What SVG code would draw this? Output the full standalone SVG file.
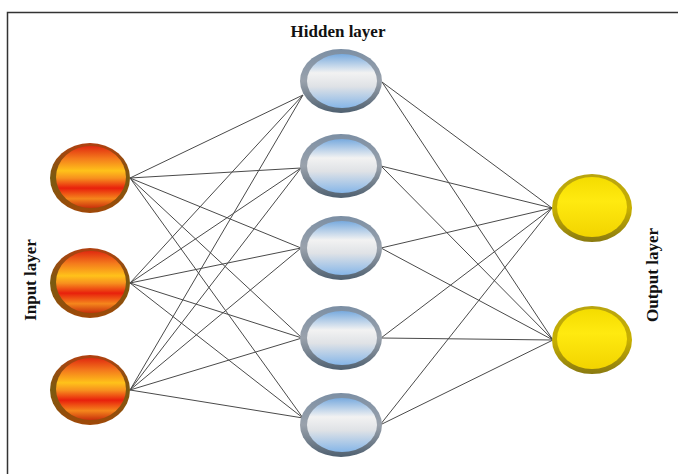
<svg xmlns="http://www.w3.org/2000/svg" width="678" height="474" viewBox="0 0 678 474">
<style>
.lbl{font-family:"Liberation Serif",serif;font-weight:bold;font-size:17px;fill:#111}
.cn line{stroke:#4a4a4a;stroke-width:1}
</style>
<defs>
<linearGradient id="gIn" x1="0" y1="0" x2="0" y2="1">
<stop offset="0" stop-color="#e02a10"/>
<stop offset="0.2" stop-color="#f47a1c"/>
<stop offset="0.4" stop-color="#ffc21a"/>
<stop offset="0.52" stop-color="#f7901e"/>
<stop offset="0.68" stop-color="#e8200c"/>
<stop offset="0.85" stop-color="#f5861c"/>
<stop offset="1" stop-color="#c8300c"/>
</linearGradient>
<linearGradient id="gInR" x1="0" y1="0" x2="0" y2="1">
<stop offset="0" stop-color="#b04010"/>
<stop offset="0.5" stop-color="#7a5a10"/>
<stop offset="1" stop-color="#a04808"/>
</linearGradient>
<linearGradient id="gHid" x1="0" y1="0" x2="0" y2="1">
<stop offset="0" stop-color="#78aade"/>
<stop offset="0.35" stop-color="#f2f2f2"/>
<stop offset="0.6" stop-color="#dfe2e6"/>
<stop offset="1" stop-color="#86b6e8"/>
</linearGradient>
<linearGradient id="gHidR" x1="0" y1="0" x2="0" y2="1">
<stop offset="0" stop-color="#7c8fa4"/>
<stop offset="0.5" stop-color="#9aa2ac"/>
<stop offset="1" stop-color="#4f6070"/>
</linearGradient>
<linearGradient id="gOut" x1="0" y1="0" x2="0" y2="1">
<stop offset="0" stop-color="#f4dc00"/>
<stop offset="0.4" stop-color="#ffea10"/>
<stop offset="1" stop-color="#f2d400"/>
</linearGradient>
<linearGradient id="gOutR" x1="0" y1="0" x2="0" y2="1">
<stop offset="0" stop-color="#b8a410"/>
<stop offset="0.5" stop-color="#c8b000"/>
<stop offset="1" stop-color="#8a7a10"/>
</linearGradient>
</defs>
<rect x="0" y="0" width="678" height="474" fill="#fff"/>
<path d="M7.5 474 V12.5 H678" fill="none" stroke="#333" stroke-width="1.5"/>
<text class="lbl" x="338" y="37" text-anchor="middle" font-size="18">Hidden layer</text>
<text class="lbl" transform="translate(36,280) rotate(-90)" text-anchor="middle">Input layer</text>
<text class="lbl" transform="translate(658,275) rotate(-90)" text-anchor="middle">Output layer</text>
<g id="connectors" class="cn">
<line x1="130" y1="178" x2="303" y2="95"/>
<line x1="130" y1="178" x2="301" y2="168"/>
<line x1="130" y1="178" x2="301" y2="248"/>
<line x1="130" y1="178" x2="302" y2="338"/>
<line x1="130" y1="178" x2="303" y2="418"/>
<line x1="130" y1="283" x2="303" y2="95"/>
<line x1="130" y1="283" x2="301" y2="168"/>
<line x1="130" y1="283" x2="301" y2="248"/>
<line x1="130" y1="283" x2="302" y2="338"/>
<line x1="130" y1="283" x2="303" y2="418"/>
<line x1="130" y1="390" x2="303" y2="95"/>
<line x1="130" y1="390" x2="301" y2="168"/>
<line x1="130" y1="390" x2="301" y2="248"/>
<line x1="130" y1="390" x2="302" y2="338"/>
<line x1="130" y1="390" x2="303" y2="418"/>
<line x1="382" y1="82" x2="552" y2="208"/>
<line x1="382" y1="82" x2="553" y2="340"/>
<line x1="381" y1="166" x2="552" y2="208"/>
<line x1="381" y1="166" x2="553" y2="340"/>
<line x1="381" y1="248" x2="552" y2="208"/>
<line x1="381" y1="248" x2="553" y2="340"/>
<line x1="381" y1="338" x2="552" y2="208"/>
<line x1="381" y1="338" x2="553" y2="340"/>
<line x1="380" y1="425" x2="552" y2="208"/>
<line x1="380" y1="425" x2="553" y2="340"/>
</g>
<g id="in1"><ellipse cx="90" cy="178" rx="40" ry="35" fill="url(#gInR)"/><ellipse cx="91" cy="177" rx="35" ry="31" fill="url(#gIn)"/></g>
<g id="in2"><ellipse cx="90" cy="283" rx="40" ry="35" fill="url(#gInR)"/><ellipse cx="91" cy="282" rx="35" ry="31" fill="url(#gIn)"/></g>
<g id="in3"><ellipse cx="90" cy="390" rx="40" ry="35" fill="url(#gInR)"/><ellipse cx="91" cy="389" rx="35" ry="31" fill="url(#gIn)"/></g>
<g id="h1"><ellipse cx="341" cy="81" rx="41" ry="32" fill="url(#gHidR)"/><ellipse cx="342" cy="81" rx="35" ry="27" fill="url(#gHid)"/></g>
<g id="h2"><ellipse cx="341" cy="166" rx="41" ry="32" fill="url(#gHidR)"/><ellipse cx="342" cy="166" rx="35" ry="27" fill="url(#gHid)"/></g>
<g id="h3"><ellipse cx="341" cy="248" rx="41" ry="32" fill="url(#gHidR)"/><ellipse cx="342" cy="248" rx="35" ry="27" fill="url(#gHid)"/></g>
<g id="h4"><ellipse cx="341" cy="338" rx="41" ry="32" fill="url(#gHidR)"/><ellipse cx="342" cy="338" rx="35" ry="27" fill="url(#gHid)"/></g>
<g id="h5"><ellipse cx="341" cy="425" rx="41" ry="32" fill="url(#gHidR)"/><ellipse cx="342" cy="425" rx="35" ry="27" fill="url(#gHid)"/></g>
<g id="o1"><ellipse cx="592" cy="208" rx="40" ry="34" fill="url(#gOutR)"/><ellipse cx="592" cy="207" rx="35" ry="30" fill="url(#gOut)"/></g>
<g id="o2"><ellipse cx="592" cy="340" rx="40" ry="34" fill="url(#gOutR)"/><ellipse cx="592" cy="339" rx="35" ry="30" fill="url(#gOut)"/></g>
</svg>
